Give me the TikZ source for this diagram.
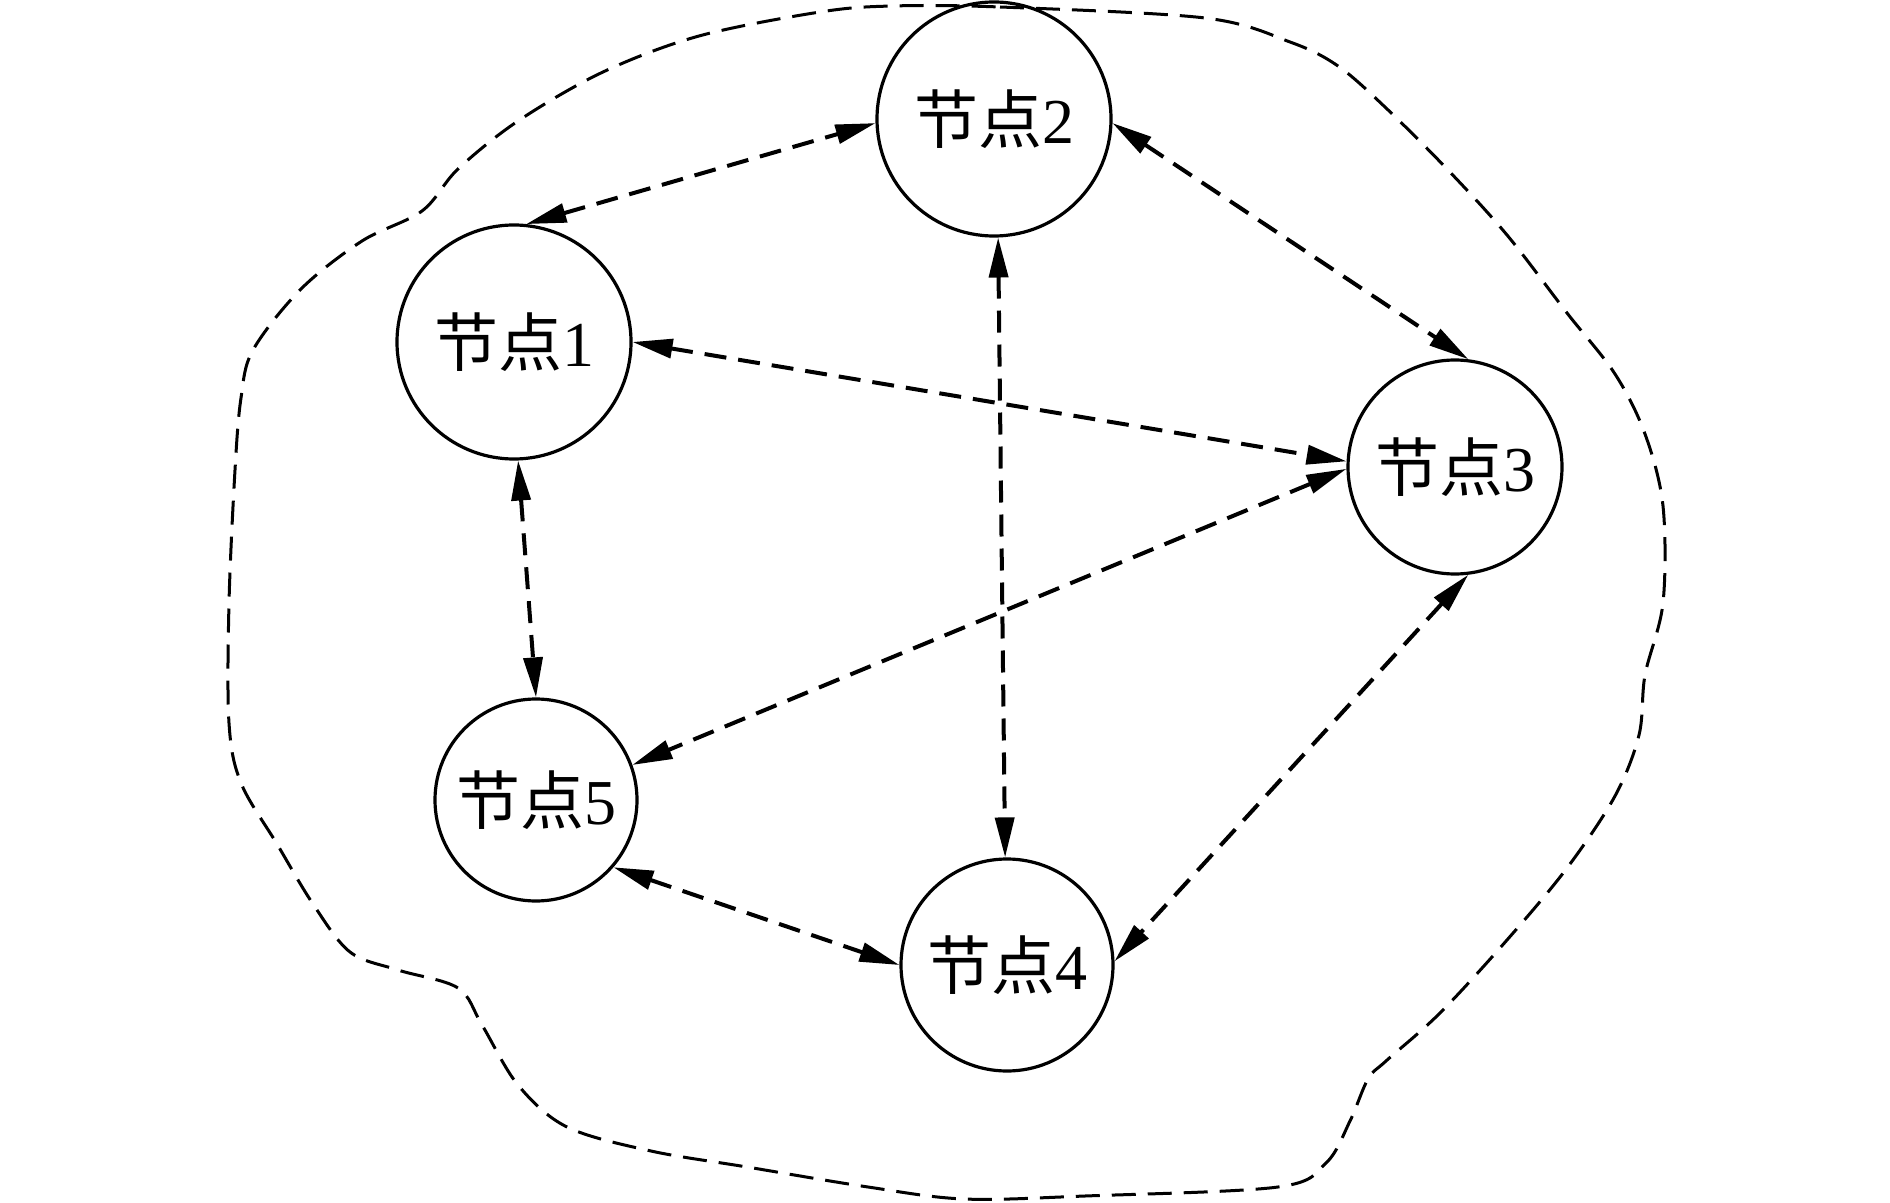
\documentclass[tikz,border=0pt]{standalone}
\usepackage{fontspec}
\setmainfont{Liberation Serif}
\newfontfamily\cjk{Noto Sans CJK SC}
\usetikzlibrary{arrows.meta}
\tikzset{
  nd/.style={draw, circle, line width=1.6pt, inner sep=0pt, font=\fontsize{32pt}{32pt}\selectfont},
  tipx/.tip={Triangle[length=20pt,width=9.5pt]},
  conn/.style={draw, line width=2pt, dash pattern=on 11pt off 6pt, tipx-tipx},
  outline/.style={draw, line width=1.5pt, dash pattern=on 12pt off 6pt}
}
\begin{document}
\begin{tikzpicture}[x=0.5pt,y=-0.5pt]
\useasboundingbox (0,0) rectangle (1890,1203);
\draw[outline] plot[smooth cycle, tension=0.55] coordinates {
(892,6) (1000,7) (1205,18) (1290,42) (1338,66) (1386,108) (1447,169) (1507,235)
(1567,313) (1615,374) (1645,434) (1663,506) (1663,603) (1645,675) (1639,735)
(1615,796) (1567,868) (1507,940) (1440,1013) (1386,1061) (1368,1079) (1350,1121)
(1326,1163) (1278,1187) (1085,1196) (964,1199) (868,1187) (747,1167) (651,1151)
(567,1127) (518,1085) (482,1025) (458,988) (398,970) (350,952) (313,904) (277,844)
(241,783) (229,723) (229,603) (235,470) (241,398) (253,350) (301,289) (362,241)
(422,211) (458,169) (518,121) (603,72) (699,36) (820,12)};
\node[nd, minimum size=117pt] (n1) at (514,342) {{\cjk 节点}1};
\node[nd, minimum size=117pt] (n2) at (994,119) {{\cjk 节点}2};
\node[nd, minimum size=107pt] (n3) at (1455,467) {{\cjk 节点}3};
\node[nd, minimum size=106pt] (n4) at (1007,965) {{\cjk 节点}4};
\node[nd, minimum size=101pt] (n5) at (536,800) {{\cjk 节点}5};
\draw[conn] (n1.84.6) -- (n2.182.4);
\draw[conn] (n2.-2.4) -- (n3.83.6);
\draw[conn] (n2.-88.5) -- (n4.91);
\draw[conn] (n1.0) -- (n3.177.8);
\draw[conn] (n3.181.6) -- (n5.20);
\draw[conn] (n1.-88.6) -- (n5.90);
\draw[conn] (n5.-41.5) -- (n4.180);
\draw[conn] (n3.-83.7) -- (n4.2.7);
\end{tikzpicture}
\end{document}
